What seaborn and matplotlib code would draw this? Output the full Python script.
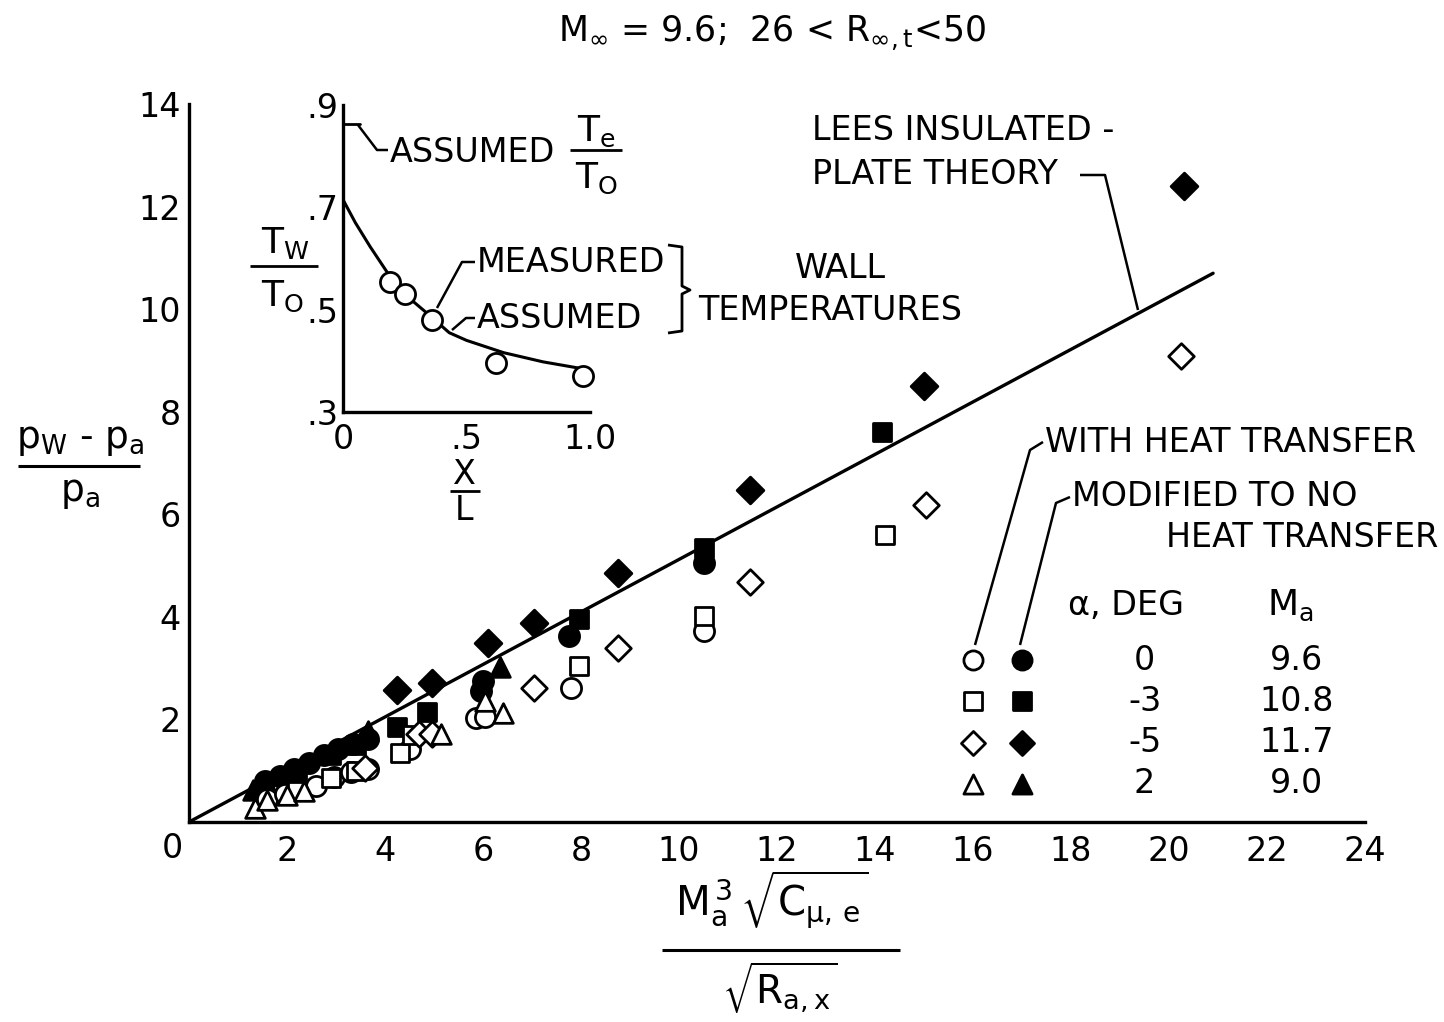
import matplotlib
matplotlib.use("Agg")
import matplotlib.pyplot as plt
import seaborn as sns
from matplotlib.lines import Line2D

# ---------------- data ----------------
theory_x = [0.0, 20.9]
theory_y = [0.0, 10.7]

circ_mod_x = [1.55, 1.85, 2.15, 2.45, 2.75, 3.05, 3.35, 3.65, 5.95, 6.00, 7.75, 10.50]
circ_mod_y = [0.80, 0.90, 1.03, 1.15, 1.30, 1.42, 1.52, 1.62, 2.55, 2.75, 3.62, 5.05]
circ_ht_x = [1.60, 1.95, 2.30, 2.60, 2.95, 3.30, 3.65, 4.50, 5.85, 6.05, 7.80, 10.50]
circ_ht_y = [0.45, 0.55, 0.62, 0.70, 0.88, 0.98, 1.03, 1.42, 2.02, 2.05, 2.62, 3.72]
sq_mod_x = [2.20, 2.90, 3.40, 4.25, 4.85, 7.95, 10.50, 14.15]
sq_mod_y = [1.00, 1.30, 1.50, 1.85, 2.15, 3.95, 5.35, 7.60]
sq_ht_x = [2.20, 2.90, 3.40, 4.30, 4.55, 7.95, 10.50, 14.20]
sq_ht_y = [0.60, 0.85, 1.00, 1.35, 1.70, 3.05, 4.02, 5.60]
dia_mod_x = [4.25, 4.95, 6.10, 7.05, 8.75, 11.45, 15.00, 20.30]
dia_mod_y = [2.57, 2.72, 3.50, 3.88, 4.85, 6.48, 8.50, 12.40]
dia_ht_x = [3.60, 4.70, 4.95, 7.05, 8.75, 11.45, 15.05, 20.25]
dia_ht_y = [1.05, 1.72, 1.72, 2.62, 3.40, 4.68, 6.18, 9.08]
tri_mod_x = [1.30, 1.60, 2.00, 3.65, 6.35]
tri_mod_y = [0.62, 0.72, 0.85, 1.78, 3.02]
tri_ht_x = [1.35, 1.60, 2.00, 2.35, 5.15, 6.05, 6.40]
tri_ht_y = [0.28, 0.42, 0.52, 0.60, 1.72, 2.35, 2.12]

legend_alpha = ["0", "-3", "-5", "2"]
legend_mach = ["9.6", "10.8", "11.7", "9.0"]
legend_rows_y = [3.15, 2.35, 1.55, 0.75]

x_ticks = [0, 2, 4, 6, 8, 10, 12, 14, 16, 18, 20, 22, 24]
y_ticks = [0, 2, 4, 6, 8, 10, 12, 14]

# inset: wall temperature distribution
inset_meas_x = [0.19, 0.25, 0.36, 0.62, 0.97]
inset_meas_y = [0.555, 0.53, 0.48, 0.395, 0.37]
inset_curve_x = [0.0, 0.05, 0.11, 0.19, 0.25, 0.36, 0.43, 0.50, 0.65, 0.81, 1.0]
inset_curve_y = [0.715, 0.67, 0.623, 0.565, 0.53, 0.485, 0.455, 0.44, 0.416, 0.398, 0.382]
assumed_te = 0.862
inset_x_ticks = [0.0, 0.5, 1.0]
inset_x_labels = ["0", ".5", "1.0"]
inset_y_ticks = [0.3, 0.5, 0.7, 0.9]
inset_y_labels = [".3", ".5", ".7", ".9"]

# ---------------- style ----------------
sns.set_theme(style="white")
plt.rcParams["font.family"] = ["DejaVu Sans"]
plt.rcParams["mathtext.default"] = "regular"
plt.rcParams["mathtext.fontset"] = "dejavusans"
plt.rcParams["text.color"] = "black"

W, H = 1444, 1022
FS = 24


def fx(px):
    return px / W


def fy(py):
    return 1 - py / H


fig = plt.figure(figsize=(W / 100, H / 100), dpi=100)
fig.patch.set_facecolor("white")


def fline(xs, ys, lw=1.8):
    fig.add_artist(Line2D([fx(x) for x in xs], [fy(y) for y in ys],
                          color="black", lw=lw, transform=fig.transFigure,
                          solid_capstyle="butt"))


def ftext(px, py, s, ha="center", va="center", size=FS):
    fig.text(fx(px), fy(py), s, ha=ha, va=va, fontsize=size, color="black")


# ---------------- main axes ----------------
ax = fig.add_axes([fx(189), fy(822), (1365 - 189) / W, (822 - 104) / H])
ax.set_facecolor("none")

sns.lineplot(x=theory_x, y=theory_y, color="black", lw=2.4, ax=ax)

EW = 2.0
series = [
    (circ_mod_x, circ_mod_y, "o", "black", 210),
    (sq_mod_x, sq_mod_y, "s", "black", 170),
    (dia_mod_x, dia_mod_y, "D", "black", 185),
    (tri_mod_x, tri_mod_y, "^", "black", 200),
    (circ_ht_x, circ_ht_y, "o", "white", 210),
    (sq_ht_x, sq_ht_y, "s", "white", 170),
    (dia_ht_x, dia_ht_y, "D", "white", 170),
    (tri_ht_x, tri_ht_y, "^", "white", 200),
]
for xs, ys, m, fc, s in series:
    sns.scatterplot(x=xs, y=ys, marker=m, s=s, facecolor=fc, edgecolor="black",
                    linewidth=EW, ax=ax, legend=False, zorder=3)

# legend symbols (drawn in data space of the main axes)
leg_markers = [("o", 190), ("s", 150), ("D", 150), ("^", 190)]
for (m, s), yy in zip(leg_markers, legend_rows_y):
    sns.scatterplot(x=[16.0], y=[yy], marker=m, s=s, facecolor="white",
                    edgecolor="black", linewidth=EW, ax=ax, legend=False, zorder=3)
    sns.scatterplot(x=[17.0], y=[yy], marker=m, s=s, facecolor="black",
                    edgecolor="black", linewidth=EW, ax=ax, legend=False, zorder=3)
for a, mval, yy in zip(legend_alpha, legend_mach, legend_rows_y):
    ax.text(19.5, yy, a, ha="center", va="center", fontsize=FS, color="black")
    ax.text(22.6, yy, mval, ha="center", va="center", fontsize=FS, color="black")

ax.set_xlim(0, 24)
ax.set_ylim(0, 14)
ax.set_xticks(x_ticks)
ax.set_xticklabels([""] + [str(t) for t in x_ticks[1:]])
ax.set_yticks(y_ticks)
ax.set_yticklabels([""] + [str(t) for t in y_ticks[1:]])
ax.tick_params(direction="in", length=13, width=2, labelsize=FS, colors="black")
ax.tick_params(axis="x", pad=9)
ax.tick_params(axis="y", pad=6)
for side in ["top", "right"]:
    ax.spines[side].set_visible(False)
for side in ["left", "bottom"]:
    ax.spines[side].set_linewidth(2.4)
    ax.spines[side].set_color("black")
ax.set_xlabel("")
ax.set_ylabel("")
ax.grid(False)

ftext(172, 848, "0")

# ---------------- inset ----------------
axi = fig.add_axes([fx(343), fy(412), 247 / W, 307 / H])
axi.set_facecolor("none")
sns.lineplot(x=inset_curve_x, y=inset_curve_y, color="black", lw=2.2, ax=axi)
sns.scatterplot(x=inset_meas_x, y=inset_meas_y, marker="o", s=210, facecolor="white",
                edgecolor="black", linewidth=EW, ax=axi, legend=False, zorder=3,
                clip_on=False)
axi.plot([0, 0.07], [assumed_te, assumed_te], color="black", lw=2)
axi.set_xlim(0, 1.0)
axi.set_ylim(0.3, 0.9)
axi.set_xticks(inset_x_ticks)
axi.set_xticklabels(inset_x_labels)
axi.set_yticks(inset_y_ticks)
axi.set_yticklabels(inset_y_labels)
axi.tick_params(direction="in", length=16, width=2, labelsize=FS, colors="black")
axi.tick_params(axis="x", pad=8)
axi.tick_params(axis="y", pad=3)
for side in ["top", "right"]:
    axi.spines[side].set_visible(False)
for side in ["left", "bottom"]:
    axi.spines[side].set_linewidth(2.4)
    axi.spines[side].set_color("black")
axi.set_xlabel("")
axi.set_ylabel("")
axi.grid(False)

# ---------------- texts ----------------
ftext(772, 33, r"$M_{\infty}$ = 9.6;  26 < $R_{\infty,t}$<50", size=25)

ftext(812, 131, "LEES INSULATED -", ha="left")
ftext(812, 175, "PLATE THEORY", ha="left")
fline([1080, 1105, 1138], [175, 175, 310])

ftext(840, 268, "WALL")
ftext(698, 310, "TEMPERATURES", ha="left")
fline([668, 682, 682, 690, 682, 682, 668], [245, 247, 286, 290, 294, 331, 333], lw=2)

ftext(390, 153, "ASSUMED", ha="left")
fline([358, 377, 388], [125, 150, 150])
ftext(596, 131, r"$T_e$", size=FS + 2)
fline([570, 622], [150, 150], lw=2)
ftext(596, 178, r"$T_O$", size=FS + 2)

ftext(477, 262, "MEASURED", ha="left")
fline([437, 462, 475], [308, 262, 262])
ftext(477, 318, "ASSUMED", ha="left")
fline([452, 466, 475], [330, 318, 318])

ftext(285, 243, r"$T_W$", size=FS + 2)
fline([250, 318], [266, 266], lw=2)
ftext(282, 296, r"$T_O$", size=FS + 2)

ftext(464, 475, "X")
fline([450, 480], [491, 491], lw=2)
ftext(464, 511, "L")

# y label
ftext(80, 440, r"$p_W$ - $p_a$", size=FS + 3)
fline([18, 140], [466, 466], lw=2.2)
ftext(80, 493, r"$p_a$", size=FS + 3)

# x label
ftext(772, 900, r"$M_a^{\,3}\,\sqrt{C_{\mu,\,e}}$", size=FS + 5)
fline([662, 900], [950, 950], lw=2.2)
ftext(780, 988, r"$\sqrt{R_{a,x}}$", size=FS + 4)

# legend texts
ftext(1045, 442, "WITH HEAT TRANSFER", ha="left")
ftext(1072, 497, "MODIFIED TO NO", ha="left")
ftext(1438, 537, "HEAT TRANSFER", ha="right")
ftext(1068, 605, "α, DEG", ha="left")
ftext(1290, 605, r"$M_a$", size=FS + 2)
fline([975, 1030, 1043], [645, 450, 442])
fline([1020, 1056, 1070], [645, 503, 497])

fig.savefig("out.png", dpi=100, facecolor="white")
